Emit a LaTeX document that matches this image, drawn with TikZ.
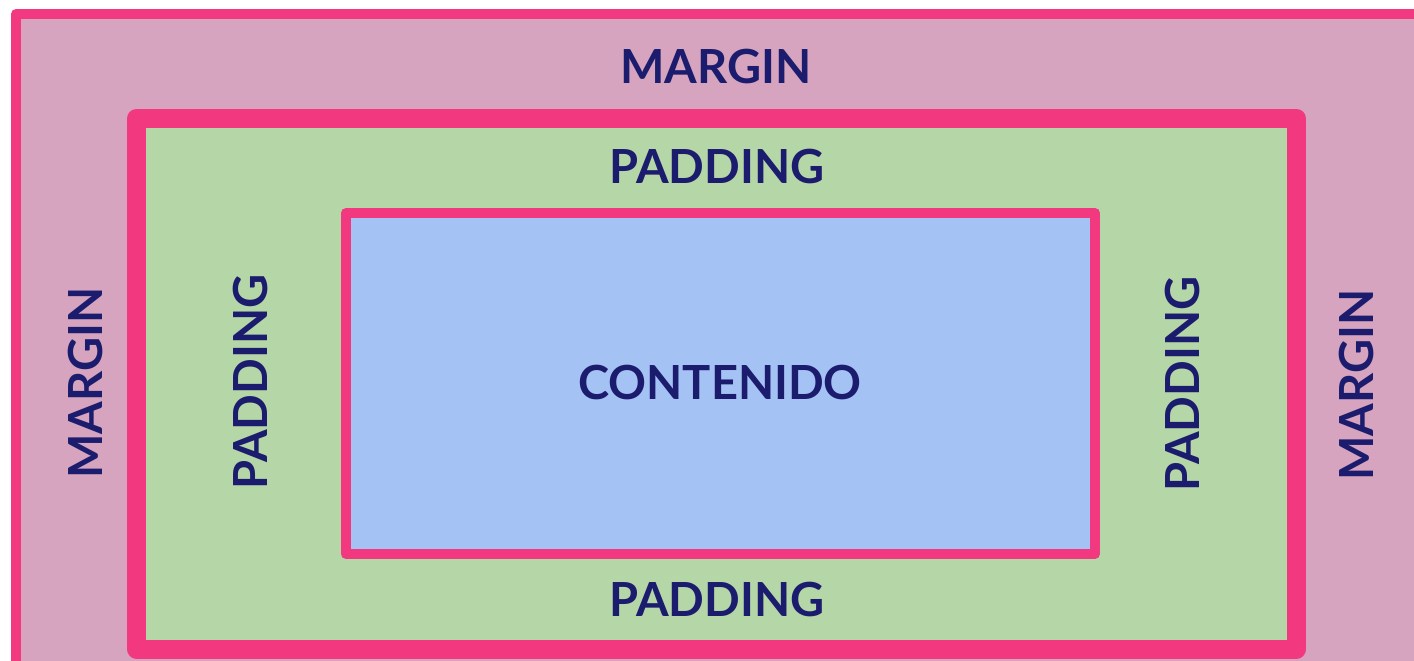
\documentclass[tikz,border=0pt]{standalone}
\usepackage{fontspec}
\setmainfont{Lato}
\definecolor{edgepink}{HTML}{F2397F}
\definecolor{marginfill}{HTML}{D6A4BE}
\definecolor{paddingfill}{HTML}{B5D6A7}
\definecolor{contentfill}{HTML}{A4C2F4}
\definecolor{labelnavy}{HTML}{1C1C6E}
\tikzset{
  boxedge/.style={draw=edgepink, line join=round},
  lbl/.style={text=labelnavy, font=\fontsize{47}{51}\selectfont\bfseries, inner sep=0pt, anchor=center},
}
\begin{document}
\begin{tikzpicture}[x=1pt,y=-1pt]
\useasboundingbox (0,0) rectangle (1414,661);
\clip (0,0) rectangle (1414,661);
\fill[white] (0,0) rectangle (1414,661);
% margin box
\path[boxedge, fill=marginfill, line width=10pt] (16,14) rectangle (1440,700);
% padding box
\path[boxedge, fill=paddingfill, line width=19pt] (136.5,118.5) rectangle (1296.5,649);
% content box
\path[boxedge, fill=contentfill, line width=10pt] (346,213) rectangle (1095,554);
% labels
\node[lbl] (mtop) at (716,67) {MARGIN};
\node[lbl, rotate=90] (mleft) at (86,383) {MARGIN};
\node[lbl, rotate=90] (mright) at (1356,385) {MARGIN};
\node[lbl] (ptop) at (717,167) {PADDING};
\node[lbl] (pbot) at (717,600) {PADDING};
\node[lbl, rotate=90] (pleft) at (251,382) {PADDING};
\node[lbl, rotate=90] (pright) at (1182,384) {PADDING};
\node[lbl] (content) at (720,383) {CONTENIDO};
\end{tikzpicture}
\end{document}
